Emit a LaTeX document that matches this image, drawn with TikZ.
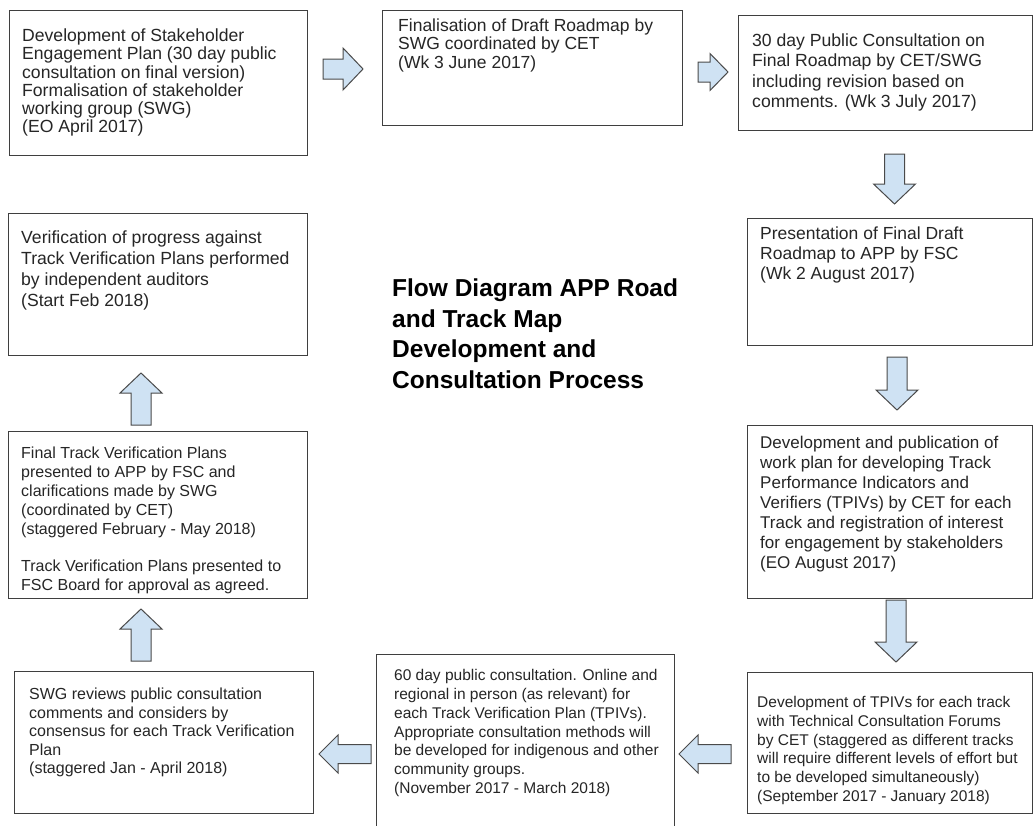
\documentclass[tikz,border=0pt]{standalone}
\usepackage{fontspec}
\setmainfont{Liberation Sans}
\usetikzlibrary{calc}
\definecolor{boxline}{HTML}{3F3F3F}
\definecolor{txt}{HTML}{262626}
\definecolor{arrfill}{HTML}{CFE2F3}
\definecolor{arrline}{HTML}{4A4A4A}
\newcommand{\fsz}[2]{\fontsize{#1pt}{#2pt}\selectfont}
\begin{document}
\begin{tikzpicture}[x=1pt,y=-1pt,
  box/.style={draw=boxline, line width=1.2pt, anchor=north west, inner sep=0pt},
  txtnode/.style={anchor=north west, inner sep=0pt, align=left, text=txt},
  ba head len/.store in=\bahl, ba head half/.store in=\bahh, ba shaft half/.store in=\bash,
  ba head len=20pt, ba head half=21pt, ba shaft half=10pt,
  blockarrow/.style={draw=arrline, fill=arrfill, line width=1pt, line join=miter,
    to path={
      ($(\tikztostart)!\bash!90:(\tikztotarget)$)
      -- ($(\tikztotarget)!\bahl!(\tikztostart)!\bash!-90:(\tikztostart)$)
      -- ($(\tikztotarget)!\bahl!(\tikztostart)!\bahh!-90:(\tikztostart)$)
      -- (\tikztotarget)
      -- ($(\tikztotarget)!\bahl!(\tikztostart)!\bahh!90:(\tikztostart)$)
      -- ($(\tikztotarget)!\bahl!(\tikztostart)!\bash!90:(\tikztostart)$)
      -- ($(\tikztostart)!\bash!-90:(\tikztotarget)$)
      -- cycle}}
]
\useasboundingbox (0,0) rectangle (1036,825);
\fill[white] (0,0) rectangle (1036,825);

% boxes
\node[box, minimum width=298pt, minimum height=145pt] (b1) at (9,10) {};
\node[box, minimum width=300pt, minimum height=115pt] (b2) at (382,10) {};
\node[box, minimum width=294pt, minimum height=115pt] (b3) at (738,15) {};
\node[box, minimum width=285pt, minimum height=127pt] (b4) at (747,218) {};
\node[box, minimum width=285pt, minimum height=173pt] (b5) at (747,425) {};
\node[box, minimum width=285pt, minimum height=141pt] (b6) at (747,672) {};
\node[box, minimum width=298pt, minimum height=190pt] (b7) at (376,654) {};
\node[box, minimum width=299pt, minimum height=142pt] (b8) at (14,671) {};
\node[box, minimum width=299pt, minimum height=167pt] (b9) at (8,431) {};
\node[box, minimum width=299pt, minimum height=142pt] (b10) at (8,213) {};

% texts
\node[txtnode, font=\fsz{17.6}{18.3}] (t1) at (22,28.5) {Development of Stakeholder\\Engagement Plan (30 day public\\consultation on final version)\\Formalisation of stakeholder\\working group (SWG)\\(EO April 2017)};
\node[txtnode, font=\fsz{17.5}{18.5}] (t2) at (398,18.5) {Finalisation of Draft Roadmap by\\SWG coordinated by CET\\(Wk 3 June 2017)};
\node[txtnode, font=\fsz{17.6}{20.3}] (t3) at (752,33.5) {30 day Public Consultation on\\Final Roadmap by CET/SWG\\including revision based on\\comments. (Wk 3 July 2017)};
\node[txtnode, font=\fsz{17.5}{20}] (t4) at (760,226.5) {Presentation of Final Draft\\Roadmap to APP by FSC\\(Wk 2 August 2017)};
\node[txtnode, font=\fsz{17}{20}] (t5) at (760,435.7) {Development and publication of\\work plan for developing Track\\Performance Indicators and\\Verifiers (TPIVs) by CET for each\\Track and registration of interest\\for engagement by stakeholders\\(EO August 2017)};
\node[txtnode, font=\fsz{15.5}{18.7}] (t6) at (757,696.3) {Development of TPIVs for each track\\with Technical Consultation Forums\\by CET (staggered as different tracks\\will require different levels of effort but\\to be developed simultaneously)\\(September 2017 - January 2018)};
\node[txtnode, font=\fsz{15.5}{18.8}] (t7) at (394,669.3) {60 day public consultation. Online and\\regional in person (as relevant) for\\each Track Verification Plan (TPIVs).\\Appropriate consultation methods will\\be developed for indigenous and other\\community groups.\\(November 2017 - March 2018)};
\node[txtnode, font=\fsz{16}{18.5}] (t8) at (29,688) {SWG reviews public consultation\\comments and considers by\\consensus for each Track Verification\\Plan\\(staggered Jan - April 2018)};
\node[txtnode, font=\fsz{16}{18.8}] (t9) at (21,447) {Final Track Verification Plans\\presented to APP by FSC and\\clarifications made by SWG\\(coordinated by CET)\\(staggered February - May 2018)\\[18.8pt]Track Verification Plans presented to\\FSC Board for approval as agreed.};
\node[txtnode, font=\fsz{17.6}{21}] (t10) at (21,230.5) {Verification of progress against\\Track Verification Plans performed\\by independent auditors\\(Start Feb 2018)};

% title
\node[txtnode, font=\bfseries\fsz{24.5}{30.5}, text=black] (title) at (392,279) {Flow Diagram APP Road\\and Track Map\\Development and\\Consultation Process};

% arrow end points
\coordinate (a1s) at (323,69);   \coordinate (a1e) at (363,69);
\coordinate (a2s) at (698,72);   \coordinate (a2e) at (728,72);
\coordinate (a3s) at (894.5,154); \coordinate (a3e) at (894.5,204);
\coordinate (a4s) at (897,357);  \coordinate (a4e) at (897,410);
\coordinate (a5s) at (896,600);  \coordinate (a5e) at (896,662);
\coordinate (a6s) at (731,754);  \coordinate (a6e) at (679,754);
\coordinate (a7s) at (371,754);  \coordinate (a7e) at (319,754);
\coordinate (a8s) at (141,661);  \coordinate (a8e) at (141,609);
\coordinate (a9s) at (141,425);  \coordinate (a9e) at (141,373);

% block arrows
\draw[blockarrow] (a1s) to (a1e);
\draw[blockarrow, ba head len=18pt, ba head half=18.5pt] (a2s) to (a2e);
\draw[blockarrow] (a3s) to (a3e);
\draw[blockarrow] (a4s) to (a4e);
\draw[blockarrow] (a5s) to (a5e);
\draw[blockarrow, ba head len=19pt, ba head half=19pt, ba shaft half=9.5pt] (a6s) to (a6e);
\draw[blockarrow, ba head len=19pt, ba head half=19pt, ba shaft half=9.5pt] (a7s) to (a7e);
\draw[blockarrow] (a8s) to (a8e);
\draw[blockarrow] (a9s) to (a9e);
\end{tikzpicture}
\end{document}
